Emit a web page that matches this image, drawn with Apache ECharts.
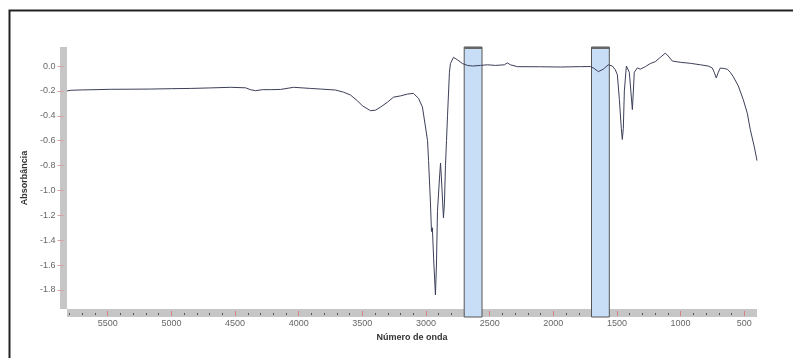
<!DOCTYPE html>
<html>
<head>
<meta charset="utf-8">
<script src="https://cdn.jsdelivr.net/npm/echarts@6/dist/echarts.min.js"></script>
<style>
  html, body { margin: 0; padding: 0; background: #fff; }
  #chart { width: 793px; height: 358px; }
</style>
</head>
<body>
<div id="chart"></div>
<script>
// FTIR spectrum, values
const wavenumber = [
  5820, 5791, 5700, 5600, 5477, 5300, 5163, 5000, 4849, 4700,
  4535, 4417, 4380, 4339, 4284, 4221, 4142, 4040, 3907, 3828,
  3711, 3648, 3593, 3538, 3499, 3436, 3397, 3357, 3302, 3255,
  3200, 3145, 3098, 3059, 3028, 3004, 2988, 2980, 2965, 2957,
  2950, 2940, 2926, 2918, 2910, 2894, 2886, 2879, 2863, 2855,
  2847, 2839, 2831, 2816, 2808, 2784, 2753, 2714, 2674, 2635,
  2572, 2517, 2455, 2384, 2361, 2337, 2282, 2101, 1944, 1787,
  1709, 1678, 1646, 1607, 1568, 1536, 1513, 1497, 1481, 1466,
  1458, 1450, 1442, 1426, 1418, 1403, 1387, 1379, 1371, 1364,
  1340, 1316, 1277, 1238, 1199, 1159, 1120, 1097, 1065, 1002,
  924, 845, 783, 751, 736, 720, 704, 688, 657, 633,
  610, 586, 547, 508, 476, 453, 421, 400
];
const absorbance = [
  -0.2, -0.195, -0.192, -0.19, -0.187, -0.186, -0.185, -0.182, -0.18, -0.176,
  -0.171, -0.175, -0.19, -0.198, -0.19, -0.19, -0.188, -0.171, -0.18, -0.185,
  -0.193, -0.21, -0.233, -0.28, -0.32, -0.359, -0.355, -0.33, -0.29, -0.25,
  -0.24, -0.225, -0.22, -0.26, -0.33, -0.49, -0.6, -0.76, -1.1, -1.33,
  -1.3, -1.55, -1.84, -1.6, -1.17, -0.9, -0.78, -0.9, -1.22, -1.1,
  -0.8, -0.6, -0.4, -0.05, 0.02, 0.07, 0.05, 0.02, 0.005, 0.0,
  0.005, 0.01, 0.005, 0.01, 0.025, 0.01, -0.005, -0.006, -0.008, -0.005,
  -0.004, -0.02, -0.045, -0.025, 0.01, 0.0, -0.03, -0.07, -0.27, -0.5,
  -0.59, -0.5, -0.2, 0.0, 0.005, -0.05, -0.25, -0.35, -0.2, -0.05,
  -0.015, -0.025, -0.005, 0.02, 0.035, 0.07, 0.104, 0.08, 0.04, 0.03,
  0.022, 0.01, 0.0, -0.016, -0.05, -0.096, -0.05, -0.016, -0.02, -0.026,
  -0.05, -0.086, -0.16, -0.27, -0.38, -0.51, -0.65, -0.76
];

// highlighted wavenumber windows
const bandFrom = [2700, 1700];
const bandTo = [2560, 1560];

const xMajor = [500, 1000, 1500, 2000, 2500, 3000, 3500, 4000, 4500, 5000, 5500];
const xMinor = [];
for (let v = 500; v <= 5800; v += 100) if (v % 500 !== 0) xMinor.push(v);
const yTicks = [-1.8, -1.6, -1.4, -1.2, -1.0, -0.8, -0.6, -0.4, -0.2, 0.0];

const xMin = 400, xMax = 5820;
const yMin = -1.953, yMax = 0.153;

const chart = echarts.init(document.getElementById('chart'), null, { renderer: 'canvas' });

const labelStyle = { color: '#666', fontSize: 9, fontFamily: 'Liberation Sans' };

chart.setOption({
  animation: false,
  backgroundColor: '#fff',
  grid: { left: 67, right: 36, top: 47, bottom: 49 },
  graphic: [{
    type: 'rect', left: 7, top: 8, z: 100, silent: true,
    shape: { width: 830, height: 400 },
    style: { fill: null, stroke: '#222', lineWidth: 2 }
  }],
  xAxis: [{
    type: 'value', min: xMin, max: xMax, inverse: true, offset: 4,
    name: 'Número de onda', nameLocation: 'middle', nameGap: 18,
    nameTextStyle: { color: '#333', fontSize: 9, fontWeight: 'bold', fontFamily: 'Liberation Sans' },
    axisLine: { show: true, onZero: false, lineStyle: { color: '#c6c6c6', width: 8, cap: 'butt' } },
    axisTick: { show: true, customValues: xMinor, length: 2, lineStyle: { color: '#555' } },
    axisLabel: { ...labelStyle, customValues: xMajor, margin: 6, formatter: v => String(v) },
    splitLine: { show: false }
  }, {
    type: 'value', min: xMin, max: xMax, inverse: true, offset: 2, position: 'bottom',
    axisLine: { show: false, onZero: false },
    axisTick: { show: true, customValues: xMajor, length: 5, lineStyle: { color: '#d98080' } },
    axisLabel: { show: false },
    splitLine: { show: false }
  }],
  yAxis: {
    type: 'value', min: yMin, max: yMax, offset: 3.5,
    name: 'Absorbância', nameLocation: 'middle', nameGap: 26, nameRotate: 90,
    nameTextStyle: { color: '#333', fontSize: 9, fontWeight: 'bold', fontFamily: 'Liberation Sans' },
    axisLine: { show: true, onZero: false, lineStyle: { color: '#c6c6c6', width: 7, cap: 'butt' } },
    axisTick: { show: true, customValues: yTicks, length: 6, lineStyle: { color: '#d9a0a0' } },
    axisLabel: { ...labelStyle, customValues: yTicks, margin: 8, formatter: v => v.toFixed(1) },
    splitLine: { show: false }
  },
  series: [{
    type: 'custom',
    xAxisIndex: 0,
    clip: false,
    z: 1,
    data: bandFrom.map((f, i) => [f, bandTo[i]]),
    encode: { x: [0, 1] },
    renderItem: (params, api) => {
      const a = api.coord([api.value(0), yMax]);
      const b = api.coord([api.value(1), yMin]);
      const x = Math.min(a[0], b[0]);
      const w = Math.abs(b[0] - a[0]);
      return {
        type: 'group',
        children: [
          { type: 'rect', shape: { x, y: a[1], width: w, height: b[1] - a[1] + 8 },
            style: { fill: '#c8def6', stroke: '#555', lineWidth: 1 } },
          { type: 'rect', shape: { x, y: a[1], width: w, height: 2 },
            style: { fill: '#666' } }
        ]
      };
    }
  }, {
    type: 'line',
    xAxisIndex: 0,
    z: 3,
    showSymbol: false,
    data: wavenumber.map((w, i) => [w, absorbance[i]]),
    lineStyle: { color: '#3c3f58', width: 1 }
  }]
});
</script>
</body>
</html>
